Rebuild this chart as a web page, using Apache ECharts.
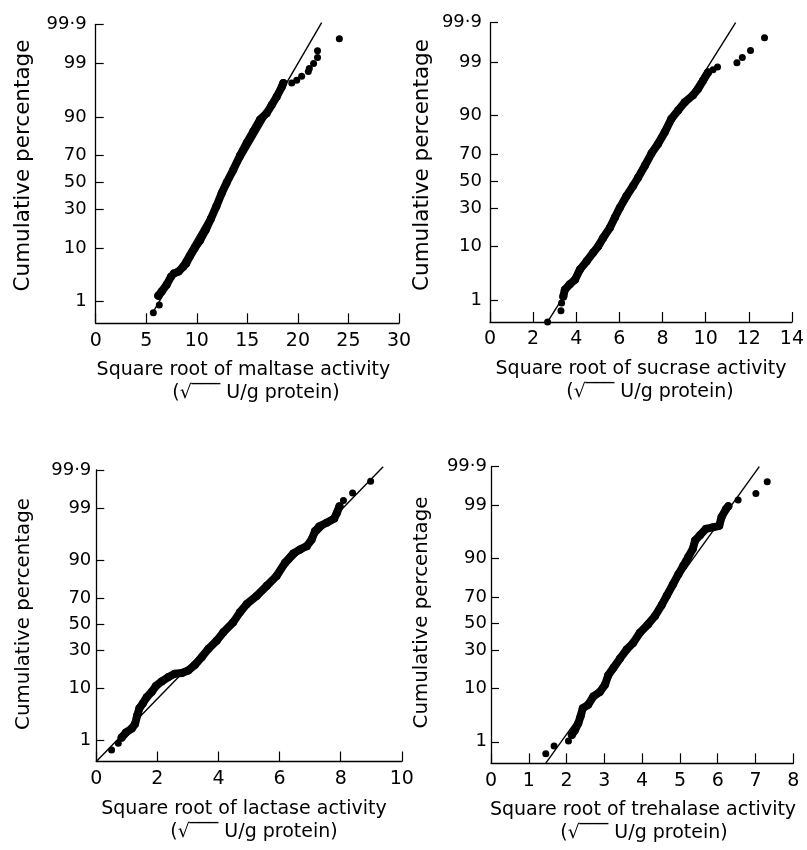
<!DOCTYPE html>
<html><head><meta charset="utf-8">
<script src="https://cdn.jsdelivr.net/npm/echarts@6/dist/echarts.min.js"></script>
<style>html,body{margin:0;padding:0;background:#fff}#c{width:807px;height:850px}</style>
</head><body><div id="c"></div>
<script>
// ---- y-axis (probability scale) ticks ----
const yTickPct = [1, 10, 30, 50, 70, 90, 99, 99.9];
const yTickText = ['1', '10', '30', '50', '70', '90', '99', '99·9'];

// ---- Maltase ----
const maltaseBandX = [6.19, 6.52, 7.02, 7.45, 7.75, 8.2, 8.65, 8.95, 9.30, 9.80, 10.33, 10.88, 11.40, 11.93, 12.46, 12.96, 13.61, 14.27, 14.94, 15.59, 16.25, 16.91, 17.41, 17.90, 18.40, 18.56];
const maltaseBandP = [1.35, 1.66, 2.3, 3.3, 3.8, 4.1, 5.0, 5.7, 7.4, 10, 13, 17.7, 24, 32, 41.7, 50, 59.8, 70, 78, 84, 89, 91.2, 93.5, 95.3, 96.9, 97.4];
const maltaseTailX = [5.70, 6.29, 19.39, 19.88, 20.37, 21.03, 21.13, 21.55, 21.94, 21.94, 24.10];
const maltaseTailP = [0.55, 0.84, 97.4, 97.7, 98.1, 98.5, 98.7, 99.0, 99.27, 99.5, 99.75];
const maltaseFitX = [5.6, 22.35];
const maltaseFitP = [0.53, 99.91];

// ---- Sucrase ----
const sucraseBandX = [3.40, 3.47, 3.70, 3.94, 4.17, 4.48, 4.78, 5.02, 5.25, 5.56, 5.79, 6.02, 6.33, 6.64, 6.87, 7.18, 7.49, 7.79, 8.10, 8.41, 8.72, 9.03, 9.41, 9.65, 9.88, 10.11];
const sucraseBandP = [1.22, 1.7, 2.2, 2.7, 4.2, 5.9, 8.1, 10.2, 13.4, 18.1, 23.8, 30.2, 38.6, 46.3, 52.8, 61.8, 70.6, 76.6, 82.9, 88.8, 91.6, 93.8, 95.3, 96.4, 97.5, 98.3];
const sucraseTailX = [2.67, 3.29, 3.32, 10.34, 10.55, 11.45, 11.70, 12.08, 12.73];
const sucraseTailP = [0.3, 0.57, 0.87, 98.5, 98.7, 98.95, 99.2, 99.46, 99.74];
const sucraseFitX = [2.67, 11.39];
const sucraseFitP = [0.3, 99.9];

// ---- Lactase ----
const lactaseBandX = [0.83, 0.97, 1.16, 1.27, 1.34, 1.41, 1.52, 1.65, 1.81, 1.95, 2.14, 2.36, 2.57, 2.80, 3.01, 3.23, 3.45, 3.67, 3.94, 4.16, 4.48, 4.70, 4.92, 5.25, 5.58, 5.90, 6.18, 6.45, 6.67, 6.89, 7.05, 7.16, 7.30, 7.54, 7.79, 7.87, 7.96];
const lactaseBandP = [1.16, 1.5, 1.83, 2.3, 3.4, 4.6, 5.6, 7.2, 8.7, 10.8, 12.6, 14.5, 16.1, 16.4, 17.7, 20.8, 25.5, 31.1, 37.1, 43.6, 51.5, 59.4, 65.6, 71.5, 77.9, 83.3, 89.1, 92.2, 93.3, 94.1, 95.5, 96.9, 97.5, 97.9, 98.3, 98.7, 99.09];
const lactaseTailX = [0.50, 0.72, 8.09, 8.39, 8.98];
const lactaseTailP = [0.59, 0.85, 99.34, 99.57, 99.79];
const lactaseFitX = [0, 9.39];
const lactaseFitP = [0.3, 99.92];

// ---- Trehalase ----
const trehalaseBandX = [2.14, 2.22, 2.31, 2.37, 2.43, 2.57, 2.71, 2.88, 3.02, 3.10, 3.24, 3.41, 3.59, 3.76, 3.94, 4.16, 4.34, 4.52, 4.65, 4.81, 4.96, 5.09, 5.22, 5.34, 5.40, 5.53, 5.69, 5.87, 6.04, 6.10, 6.22, 6.28];
const trehalaseBandP = [1.42, 1.8, 2.5, 3.4, 4.8, 5.5, 7.6, 8.9, 11.5, 15.4, 19.2, 24.5, 30.5, 35.2, 42.9, 49.6, 56, 64.4, 70.8, 77.8, 83.5, 87.3, 90.5, 92.9, 94.9, 95.9, 96.9, 97.1, 97.3, 98.2, 98.8, 98.96];
const trehalaseTailX = [1.45, 1.67, 2.05, 6.54, 7.01, 7.31];
const trehalaseTailP = [0.52, 0.8, 1.04, 99.25, 99.48, 99.74];
const trehalaseFitX = [1.45, 7.10];
const trehalaseFitP = [0.3, 99.9];

// ---- x axes ----
const xMax = [30, 14, 10, 8];
const xStep = [5, 2, 2, 1];
const xTitles = ['Square root of maltase activity', 'Square root of sucrase activity', 'Square root of lactase activity', 'Square root of trehalase activity'];
const unitText = '(√‾‾‾ U/g protein)';
const yTitle = 'Cumulative percentage';

// inverse normal CDF (probability-paper scale)
function probit(p) {
  const a = [-3.969683028665376e+01, 2.209460984245205e+02, -2.759285104469687e+02, 1.383577518672690e+02, -3.066479806614716e+01, 2.506628277459239e+00];
  const b = [-5.447609879822406e+01, 1.615858368580409e+02, -1.556989798598866e+02, 6.680131188771972e+01, -1.328068155288572e+01];
  const c = [-7.784894002430293e-03, -3.223964580411365e-01, -2.400758277161838e+00, -2.549732539343734e+00, 4.374664141464968e+00, 2.938163982698783e+00];
  const d = [7.784695709041462e-03, 3.224671290700398e-01, 2.445134137142996e+00, 3.754408661907416e+00];
  const pl = 0.02425, ph = 1 - pl; let q, r;
  if (p < pl) { q = Math.sqrt(-2 * Math.log(p)); return (((((c[0]*q+c[1])*q+c[2])*q+c[3])*q+c[4])*q+c[5]) / ((((d[0]*q+d[1])*q+d[2])*q+d[3])*q+1); }
  if (p <= ph) { q = p - 0.5; r = q*q; return (((((a[0]*r+a[1])*r+a[2])*r+a[3])*r+a[4])*r+a[5])*q / (((((b[0]*r+b[1])*r+b[2])*r+b[3])*r+b[4])*r+1); }
  q = Math.sqrt(-2 * Math.log(1 - p)); return -(((((c[0]*q+c[1])*q+c[2])*q+c[3])*q+c[4])*q+c[5]) / ((((d[0]*q+d[1])*q+d[2])*q+d[3])*q+1);
}
const z = pct => probit(pct / 100);
const yTickZ = yTickPct.map(z);
const yMin = -2.75, yMax = z(99.9);
function labelFor(v) {
  let best = 0;
  for (let i = 0; i < yTickZ.length; i++) if (Math.abs(yTickZ[i] - v) < Math.abs(yTickZ[best] - v)) best = i;
  return yTickText[best];
}
const pairs = (xs, ps) => xs.map((x, i) => [x, z(ps[i])]);

const panels = [
  { band: [maltaseBandX, maltaseBandP], tail: [maltaseTailX, maltaseTailP], fit: [maltaseFitX, maltaseFitP] },
  { band: [sucraseBandX, sucraseBandP], tail: [sucraseTailX, sucraseTailP], fit: [sucraseFitX, sucraseFitP] },
  { band: [lactaseBandX, lactaseBandP], tail: [lactaseTailX, lactaseTailP], fit: [lactaseFitX, lactaseFitP] },
  { band: [trehalaseBandX, trehalaseBandP], tail: [trehalaseTailX, trehalaseTailP], fit: [trehalaseFitX, trehalaseFitP] }
];

// layout (pixels)
const grids = [
  { left: 95.7, top: 24.3, width: 303.3, height: 299 },
  { left: 490, top: 22.7, width: 302.3, height: 299.3 },
  { left: 96.3, top: 470, width: 305.5, height: 291.5 },
  { left: 491, top: 466.7, width: 302.3, height: 296.6 }
];
const yLabelMargin = [9, 8, 5, 4];
const yTitlePos = [[23, 165.5, 21.5], [422.5, 165, 21.5], [24, 614, 19.8], [421.5, 612.5, 19.8]];
const xTitlePos = [[243.4, 370.3, 256, 393.3], [641, 369, 650, 392], [244, 808.7, 254, 831.7], [643, 810.3, 644, 833.3]];
const FONT = '"DejaVu Sans", "Liberation Sans", sans-serif';
const INK = '#000';

const option = {
  animation: false,
  backgroundColor: '#fff',
  grid: grids.map(g => Object.assign({ containLabel: false }, g)),
  xAxis: grids.map((g, i) => ({
    gridIndex: i, type: 'value', min: 0, max: xMax[i], interval: xStep[i],
    axisLine: { show: true, onZero: false, lineStyle: { color: INK, width: 1.3 } },
    axisTick: { show: true, inside: true, length: 10, lineStyle: { color: INK, width: 1.2 } },
    axisLabel: { show: true, margin: 8, fontSize: 19, fontFamily: FONT, color: INK, showMinLabel: true, showMaxLabel: true },
    splitLine: { show: false }
  })),
  yAxis: grids.map((g, i) => ({
    gridIndex: i, type: 'value', min: yMin, max: yMax,
    axisLine: { show: true, onZero: false, lineStyle: { color: INK, width: 1.3 } },
    axisTick: { show: true, inside: true, length: 8, customValues: yTickZ, lineStyle: { color: INK, width: 1.2 } },
    axisLabel: { show: true, margin: yLabelMargin[i], customValues: yTickZ, formatter: v => labelFor(v), fontSize: 18, fontFamily: FONT, color: INK },
    splitLine: { show: false }
  })),
  series: [],
  graphic: []
};

panels.forEach((p, i) => {
  option.series.push({
    type: 'line', xAxisIndex: i, yAxisIndex: i, data: pairs(p.fit[0], p.fit[1]),
    symbol: 'none', clip: false, lineStyle: { color: INK, width: 1.4 }, z: 2
  });
  option.series.push({
    type: 'line', xAxisIndex: i, yAxisIndex: i, data: pairs(p.band[0], p.band[1]),
    symbol: 'circle', symbolSize: 8, showSymbol: true, clip: false,
    itemStyle: { color: INK, opacity: 1 }, lineStyle: { color: INK, width: 8, cap: 'round', join: 'round' }, z: 3
  });
  option.series.push({
    type: 'scatter', xAxisIndex: i, yAxisIndex: i, data: pairs(p.tail[0], p.tail[1]),
    symbol: 'circle', symbolSize: 7, clip: false, itemStyle: { color: INK, opacity: 1 }, z: 3
  });
  const yt = yTitlePos[i];
  option.graphic.push({
    type: 'text', x: yt[0], y: yt[1], rotation: Math.PI / 2,
    style: { text: yTitle, fontSize: yt[2], fontFamily: FONT, fill: INK, textAlign: 'center', textVerticalAlign: 'middle' }
  });
  const xt = xTitlePos[i];
  option.graphic.push({
    type: 'text', x: xt[0], y: xt[1],
    style: { text: xTitles[i], fontSize: 19, fontFamily: FONT, fill: INK, textAlign: 'center', textVerticalAlign: 'middle' }
  });
  option.graphic.push({
    type: 'text', x: xt[2], y: xt[3],
    style: { text: unitText, fontSize: 19, fontFamily: FONT, fill: INK, textAlign: 'center', textVerticalAlign: 'middle' }
  });
});

const chart = echarts.init(document.getElementById('c'), null, { renderer: 'canvas' });
chart.setOption(option);
</script>
</body></html>
